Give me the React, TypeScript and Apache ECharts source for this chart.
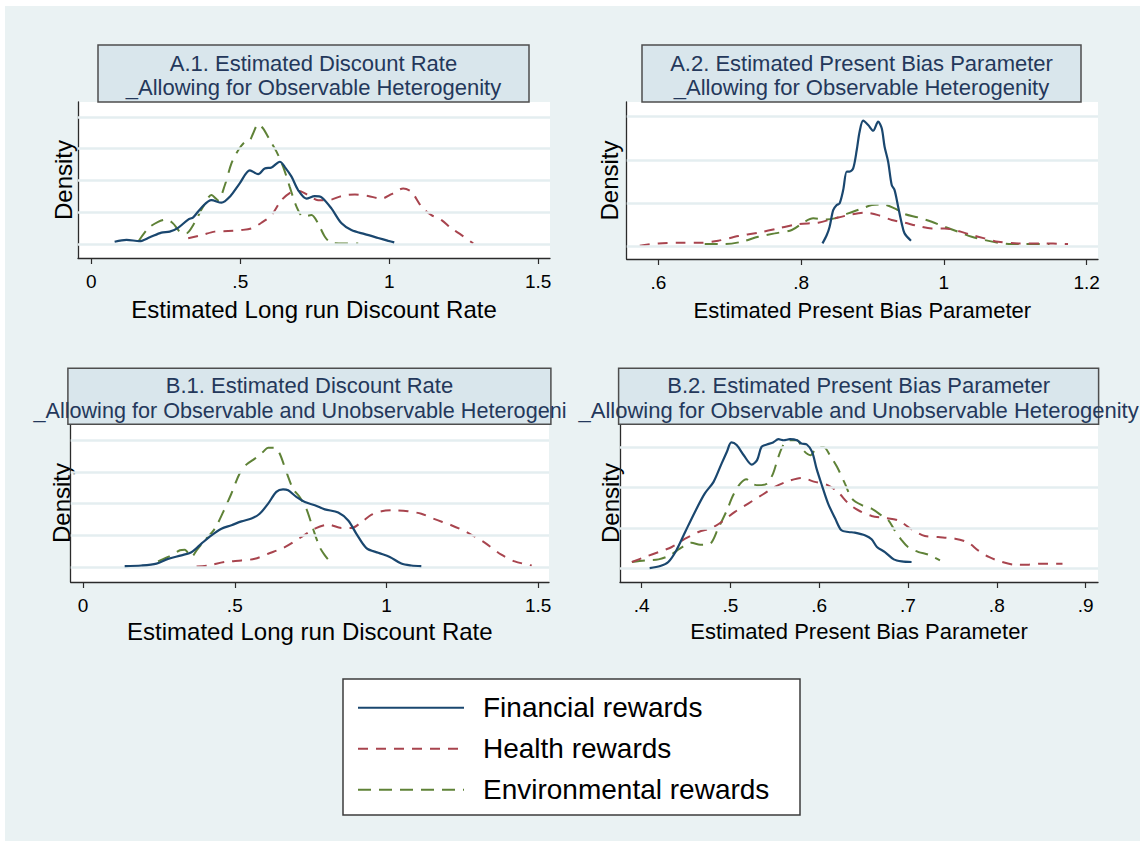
import React, { useEffect, useRef } from "react";
import * as echarts from "echarts";

// ---------- data ----------
const seriesNames = ["Financial rewards", "Health rewards", "Environmental rewards"];

const panelTitles1 = [
  "A.1. Estimated Discount Rate",
  "A.2. Estimated Present Bias Parameter",
  "B.1. Estimated Discount Rate",
  "B.2. Estimated Present Bias Parameter",
];
const panelTitles2 = [
  "_Allowing for Observable Heterogenity",
  "_Allowing for Observable Heterogenity",
  "_Allowing for Observable and Unobservable Heterogeni",
  "_Allowing for Observable and Unobservable Heterogenity",
];
const xTitles = [
  "Estimated Long run Discount Rate",
  "Estimated Present Bias Parameter",
  "Estimated Long run Discount Rate",
  "Estimated Present Bias Parameter",
];
const yTitle = "Density";

const xTicksA1 = [0, 0.5, 1, 1.5];
const xTicksA2 = [0.6, 0.8, 1, 1.2];
const xTicksB1 = [0, 0.5, 1, 1.5];
const xTicksB2 = [0.4, 0.5, 0.6, 0.7, 0.8, 0.9];

const yGridA1 = [0, 1, 2, 3, 4];
const yGridA2 = [0, 5, 10, 15];
const yGridB1 = [0, 1, 2, 3, 4];
const yGridB2 = [0, 2, 4, 6];

const A1_financial = [[0.078,0.07],[0.118,0.13],[0.162,0.09],[0.196,0.21],[0.235,0.36],[0.263,0.39],[0.291,0.51],[0.325,0.77],[0.342,0.84],[0.37,1.15],[0.403,1.38],[0.437,1.3],[0.465,1.49],[0.498,1.91],[0.532,2.32],[0.56,2.2],[0.582,2.38],[0.605,2.41],[0.633,2.59],[0.649,2.43],[0.672,2.12],[0.694,1.7],[0.722,1.43],[0.75,1.51],[0.773,1.47],[0.806,1.12],[0.84,0.65],[0.873,0.44],[0.918,0.31],[0.963,0.19],[0.997,0.1],[1.017,0.05]];
const A1_health = [[0.325,0.18],[0.37,0.28],[0.414,0.39],[0.459,0.41],[0.504,0.44],[0.537,0.49],[0.571,0.67],[0.605,0.91],[0.638,1.38],[0.672,1.64],[0.694,1.68],[0.728,1.54],[0.761,1.38],[0.795,1.38],[0.84,1.51],[0.885,1.56],[0.929,1.51],[0.974,1.43],[1.008,1.57],[1.047,1.75],[1.075,1.64],[1.109,1.17],[1.142,0.91],[1.176,0.75],[1.209,0.49],[1.243,0.28],[1.282,0.02]];
const A1_environmental = [[0.157,0.07],[0.19,0.49],[0.224,0.7],[0.253,0.77],[0.274,0.65],[0.297,0.39],[0.319,0.34],[0.342,0.6],[0.375,1.17],[0.403,1.54],[0.425,1.38],[0.448,1.85],[0.47,2.53],[0.493,2.95],[0.515,3.21],[0.532,3.27],[0.543,3.48],[0.56,3.77],[0.577,3.63],[0.599,3.27],[0.622,2.9],[0.644,2.43],[0.666,1.8],[0.689,1.17],[0.711,0.86],[0.739,0.91],[0.761,0.65],[0.784,0.23],[0.806,0.04],[0.851,0.02],[0.896,0.02]];

const A2_financial = [[0.83,0.31],[0.836,1.28],[0.84,2.24],[0.845,4.17],[0.85,4.75],[0.854,4.95],[0.859,6.49],[0.864,8.62],[0.868,8.62],[0.873,9.0],[0.878,11.13],[0.882,13.26],[0.887,14.53],[0.894,14.03],[0.901,13.37],[0.908,14.42],[0.913,13.65],[0.917,11.52],[0.922,9.78],[0.927,7.07],[0.931,6.49],[0.936,4.56],[0.941,2.63],[0.945,1.47],[0.954,0.62]];
const A2_health = [[0.574,0.04],[0.6,0.31],[0.628,0.39],[0.661,0.39],[0.684,0.62],[0.712,1.16],[0.74,1.55],[0.768,2.05],[0.796,2.55],[0.824,2.71],[0.847,3.21],[0.871,3.67],[0.889,3.87],[0.908,3.59],[0.927,3.02],[0.945,2.71],[0.964,2.32],[0.983,2.05],[1.001,2.05],[1.02,1.74],[1.039,1.28],[1.057,0.89],[1.076,0.5],[1.104,0.31],[1.137,0.31],[1.174,0.23]];
const A2_environmental = [[0.665,0.23],[0.693,0.23],[0.717,0.5],[0.74,1.08],[0.763,1.47],[0.787,1.86],[0.805,2.82],[0.817,3.21],[0.833,3.09],[0.847,3.21],[0.866,3.79],[0.882,4.25],[0.899,4.75],[0.915,4.83],[0.931,4.37],[0.945,3.71],[0.964,3.32],[0.983,2.82],[1.001,2.24],[1.02,1.66],[1.039,1.08],[1.057,0.7],[1.076,0.39],[1.095,0.23],[1.113,0.23],[1.148,0.23]];

const B1_financial = [[0.137,0.03],[0.192,0.05],[0.242,0.11],[0.28,0.26],[0.324,0.37],[0.357,0.47],[0.39,0.74],[0.423,1.0],[0.456,1.21],[0.489,1.32],[0.522,1.44],[0.555,1.53],[0.582,1.68],[0.61,2.0],[0.637,2.37],[0.659,2.45],[0.676,2.42],[0.703,2.21],[0.731,2.05],[0.764,1.95],[0.797,1.82],[0.841,1.72],[0.874,1.47],[0.901,1.05],[0.934,0.6],[0.973,0.45],[1.011,0.32],[1.049,0.11],[1.082,0.05],[1.115,0.03]];
const B1_health = [[0.374,0.02],[0.412,0.05],[0.467,0.16],[0.522,0.21],[0.566,0.26],[0.61,0.42],[0.665,0.63],[0.72,0.95],[0.764,1.21],[0.808,1.34],[0.852,1.23],[0.885,1.23],[0.918,1.42],[0.951,1.65],[0.984,1.76],[1.027,1.79],[1.071,1.76],[1.115,1.68],[1.159,1.51],[1.214,1.32],[1.269,1.08],[1.324,0.77],[1.379,0.39],[1.423,0.18],[1.479,0.05]];
const B1_environmental = [[0.247,0.18],[0.28,0.32],[0.319,0.53],[0.335,0.55],[0.357,0.32],[0.374,0.53],[0.401,0.84],[0.434,1.21],[0.462,1.74],[0.489,2.32],[0.516,2.95],[0.538,3.23],[0.566,3.42],[0.593,3.63],[0.61,3.76],[0.632,3.76],[0.648,3.58],[0.67,3.0],[0.692,2.47],[0.714,2.21],[0.736,1.84],[0.758,1.21],[0.78,0.63],[0.797,0.37],[0.813,0.18]];

const B2_financial = [[0.409,0.03],[0.421,0.13],[0.43,0.33],[0.439,0.9],[0.449,1.81],[0.46,2.8],[0.471,3.7],[0.481,4.28],[0.49,5.18],[0.496,5.76],[0.501,6.22],[0.507,6.09],[0.515,5.59],[0.524,5.13],[0.53,5.35],[0.535,6.0],[0.541,6.12],[0.548,6.22],[0.554,6.38],[0.56,6.33],[0.567,6.38],[0.575,6.33],[0.58,6.17],[0.586,6.12],[0.592,5.76],[0.597,4.93],[0.603,4.11],[0.61,3.21],[0.618,2.47],[0.625,1.89],[0.633,1.81],[0.64,1.78],[0.652,1.64],[0.659,1.45],[0.665,1.07],[0.674,0.82],[0.684,0.46],[0.693,0.36],[0.704,0.33]];
const B2_health = [[0.389,0.33],[0.404,0.58],[0.419,0.82],[0.434,1.07],[0.449,1.48],[0.464,1.81],[0.479,2.01],[0.49,2.3],[0.505,2.8],[0.52,3.21],[0.535,3.62],[0.55,4.03],[0.565,4.31],[0.58,4.47],[0.595,4.28],[0.61,4.11],[0.621,3.78],[0.633,3.21],[0.644,2.88],[0.659,2.6],[0.674,2.5],[0.689,2.38],[0.704,1.94],[0.719,1.61],[0.734,1.56],[0.753,1.48],[0.768,1.28],[0.779,0.9],[0.791,0.58],[0.806,0.33],[0.821,0.2],[0.836,0.2],[0.851,0.25],[0.874,0.25]];
const B2_environmental = [[0.389,0.33],[0.404,0.41],[0.419,0.46],[0.432,0.66],[0.443,0.99],[0.456,1.28],[0.466,1.18],[0.477,1.23],[0.486,1.97],[0.496,2.88],[0.503,3.62],[0.511,4.19],[0.518,4.41],[0.524,4.19],[0.531,4.11],[0.541,4.19],[0.548,4.69],[0.554,5.51],[0.56,6.12],[0.567,6.33],[0.575,6.33],[0.582,5.84],[0.59,5.59],[0.597,5.95],[0.605,6.0],[0.612,5.59],[0.62,5.02],[0.629,4.19],[0.637,3.45],[0.648,3.13],[0.659,2.96],[0.67,2.63],[0.678,2.38],[0.685,1.89],[0.693,1.4],[0.7,1.07],[0.712,0.82],[0.723,0.69],[0.736,0.41]];

// ---------- layout / style ----------
const FONT = "'Liberation Sans', Arial, Helvetica, sans-serif";
const COLORS = ["#1a476f", "#a8444e", "#5f8237"];
const DASHES: any[] = ["solid", [10, 8], [13, 8]];
const TITLE_COLOR = "#24385b";
const AXIS_COLOR = "#2b2b2b";
const GRID_LINE = "#e4eef0";

const panels = [
  { grid: { left: 78, top: 102, width: 472, height: 156 }, x: [-0.045, 1.54], y: [-0.44, 4.47], ticks: xTicksA1, ygrid: yGridA1, data: [A1_financial, A1_health, A1_environmental], xFont: 24, xGap: 39, yGap: 3,
    box: [98, 45, 431, 57], t1: [313.5, 63.5], t2: [313.5, 87], t2Align: "center", t2Font: 22 },
  { grid: { left: 626.7, top: 102, width: 471.3, height: 157 }, x: [0.5557, 1.216], y: [-1.5, 16.7], ticks: xTicksA2, ygrid: yGridA2, data: [A2_financial, A2_health, A2_environmental], xFont: 22, xGap: 40, yGap: 5,
    box: [642, 45, 439, 57], t1: [861.5, 63.5], t2: [861.5, 87], t2Align: "center", t2Font: 22 },
  { grid: { left: 70.7, top: 424, width: 478.3, height: 158 }, x: [-0.041, 1.536], y: [-0.47, 4.51], ticks: xTicksB1, ygrid: yGridB1, data: [B1_financial, B1_health, B1_environmental], xFont: 24, xGap: 37.5, yGap: -3,
    box: [67.9, 368.3, 483, 56], t1: [309.5, 385], t2: [33.5, 410], t2Align: "left", t2Font: 21.6 },
  { grid: { left: 620, top: 424, width: 478, height: 158 }, x: [0.3756, 0.914], y: [-0.655, 7.13], ticks: xTicksB2, ygrid: yGridB2, data: [B2_financial, B2_health, B2_environmental], xFont: 22, xGap: 38.5, yGap: -2,
    box: [618.6, 368.3, 480, 56], t1: [858.6, 385], t2: [858.6, 410], t2Align: "center", t2Font: 22 },
];

const fmt = (v: number) => {
  const s = String(+v.toFixed(2));
  return s.startsWith("0.") ? s.slice(1) : s;
};

function buildOption() {
  const grids: any[] = [];
  const xAxes: any[] = [];
  const yAxes: any[] = [];
  const series: any[] = [];
  const graphics: any[] = [
    { type: "rect", shape: { x: 0, y: 0, width: 1146, height: 6 }, style: { fill: "#ffffff" }, silent: true },
    { type: "rect", shape: { x: 0, y: 0, width: 5, height: 841 }, style: { fill: "#ffffff" }, silent: true },
    { type: "rect", shape: { x: 1140, y: 0, width: 6, height: 841 }, style: { fill: "#ffffff" }, silent: true },
    { type: "rect", z: 0, shape: { x: 343, y: 679, width: 457, height: 136 }, style: { fill: "#ffffff", stroke: "#3c3c3c", lineWidth: 1.5 }, silent: true },
  ];

  panels.forEach((p, i) => {
    grids.push({ ...p.grid, show: true, backgroundColor: "#ffffff", borderWidth: 0, containLabel: false });
    xAxes.push({
      type: "value", gridIndex: i, min: p.x[0], max: p.x[1],
      name: xTitles[i], nameLocation: "middle", nameGap: p.xGap,
      nameTextStyle: { fontSize: p.xFont, color: "#000", fontFamily: FONT },
      axisLine: { show: true, onZero: false, lineStyle: { color: AXIS_COLOR, width: 1.3 } },
      axisTick: { show: true, length: 6, customValues: p.ticks, lineStyle: { color: AXIS_COLOR, width: 1.2 } },
      axisLabel: { show: true, customValues: p.ticks, formatter: fmt, fontSize: 19, margin: 14, color: "#000", fontFamily: FONT },
      splitLine: { show: false },
    });
    yAxes.push({
      type: "value", gridIndex: i, min: p.y[0], max: p.y[1],
      name: yTitle, nameLocation: "middle", nameGap: p.yGap,
      nameTextStyle: { fontSize: 24, color: "#000", fontFamily: FONT },
      axisLine: { show: true, onZero: false, lineStyle: { color: AXIS_COLOR, width: 1.3 } },
      axisTick: { show: false },
      axisLabel: { show: false },
      splitLine: { show: false },
    });
    series.push({
      type: "line", xAxisIndex: i, yAxisIndex: i, data: [], silent: true, z: 1,
      markLine: {
        silent: true, symbol: ["none", "none"], label: { show: false },
        lineStyle: { color: GRID_LINE, width: 2.5, type: "solid" },
        data: p.ygrid.map((v) => ({ yAxis: v })),
      },
    });
    p.data.forEach((d, k) => {
      series.push({
        name: seriesNames[k], type: "line", xAxisIndex: i, yAxisIndex: i,
        data: d, symbol: "none", showSymbol: false, smooth: 0.3, z: 3 + (2 - k),
        lineStyle: { color: COLORS[k], width: k === 0 ? 2.2 : 2, type: DASHES[k] },
        itemStyle: { color: COLORS[k] },
      });
    });
    const [bx, by, bw, bh] = p.box;
    graphics.push({ type: "rect", z: 10, shape: { x: bx, y: by, width: bw, height: bh }, style: { fill: "#d9e6ec", stroke: "#4e4e4e", lineWidth: 1.5 }, silent: true });
    graphics.push({ type: "text", z: 11, x: p.t1[0], y: p.t1[1], style: { text: panelTitles1[i], fill: TITLE_COLOR, font: `22px ${FONT}`, textAlign: "center", textVerticalAlign: "middle" }, silent: true });
    graphics.push({ type: "text", z: 11, x: p.t2[0], y: p.t2[1], style: { text: panelTitles2[i], fill: TITLE_COLOR, font: `${p.t2Font}px ${FONT}`, textAlign: p.t2Align, textVerticalAlign: "middle" }, silent: true });
  });

  return {
    animation: false,
    backgroundColor: "#eaf2f3",
    grid: grids,
    xAxis: xAxes,
    yAxis: yAxes,
    series,
    graphic: { elements: graphics },
    legend: {
      data: seriesNames, orient: "vertical", left: 357, top: 692.7, padding: 0,
      itemWidth: 106, itemHeight: 14, itemGap: 11, selectedMode: false,
      itemStyle: { opacity: 0 },
      textStyle: { fontSize: 28, lineHeight: 30, color: "#000", fontFamily: FONT, padding: [0, 0, 0, 14] },
    },
  };
}

export default function App() {
  const ref = useRef<HTMLDivElement>(null);
  useEffect(() => {
    if (!ref.current) return;
    const chart = echarts.init(ref.current, undefined, { renderer: "svg" });
    chart.setOption(buildOption() as any);
    return () => chart.dispose();
  }, []);
  return <div ref={ref} style={{ position: "fixed", left: 0, top: 0, width: 1146, height: 841 }} />;
}
